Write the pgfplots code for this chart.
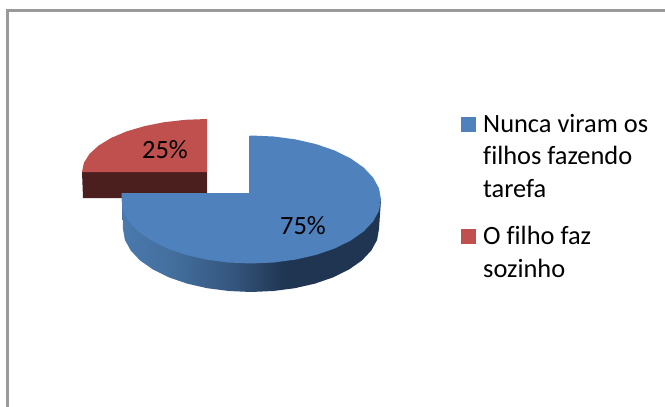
\documentclass[border=0pt]{standalone}
\usepackage{fontspec}
\setmainfont[Ligatures=NoCommon]{Carlito}
\usepackage{pgfplots}
\pgfplotsset{compat=1.18}
\definecolor{pieblue}{HTML}{4F81BD}
\definecolor{piered}{HTML}{C0504D}
\definecolor{reddark}{HTML}{4B1F1E}
\definecolor{bluedark}{HTML}{1F3551}
\definecolor{framegray}{HTML}{9A9A9A}
\definecolor{wallA}{HTML}{4A79AE}
\definecolor{wallB}{HTML}{44709F}
\definecolor{wallC}{HTML}{35577F}
\pgfdeclarehorizontalshading{sidewall}{100bp}{
  color(0bp)=(wallA);color(25bp)=(wallA);color(34bp)=(wallB);
  color(46bp)=(wallC);color(56.5bp)=(bluedark);color(100bp)=(bluedark)}
\newcommand{\lbl}{\fontsize{26.4}{32.5}\selectfont}
\begin{document}
\begin{tikzpicture}
\begin{axis}[
  width=665pt,height=407pt,scale only axis,
  xmin=0,xmax=665,ymin=0,ymax=407,y dir=reverse,
  hide axis]
% keep the whole canvas in the page
\path (axis cs:0,0) rectangle (axis cs:665,407);
% frame, only top and left show
\addplot[framegray,line width=2.4pt] coordinates {(665,10.5)(7.5,10.5)(7.5,407)};
% red slice
\addplot[draw=none,fill=reddark] coordinates {(82,172)(207,172)(207,198)(83,198)} --cycle;
\addplot[draw=none,fill=piered] coordinates {
  (82,172)(83.9,162.8)(89.5,153.9)(98.7,145.5)(111.2,137.9)(126.6,131.4)
  (144.5,126.1)(164.2,122.2)(185.3,119.8)(207,119)(207,172)} --cycle;
% blue slice, side then top
\addplot[draw=none,shading=sidewall] coordinates {
  (122,193)(123,229)(124.9,239.9)(130.7,250.5)(140.1,260.5)(153,269.5)(168.7,277.3)
  (187,283.6)(207.2,288.2)(228.8,291)(251,292)(273.2,291)(294.8,288.2)(315,283.6)
  (333.3,277.3)(349,269.5)(361.9,260.5)(371.3,250.5)(377.1,239.9)(379,229)(381,200)} --cycle;
\addplot[bluedark,opacity=0.55,line width=0.5pt] coordinates {(248.9,160)(248.9,193)};
\addplot[draw=none,fill=pieblue] coordinates {
  (249,193)(249,136)(251,135.5)(273.6,136.5)(295.5,139.4)(316,144.1)(334.6,150.5)
  (350.6,158.4)(363.6,167.5)(373.2,177.7)(379,188.4)(381,199.5)(379,210.6)(373.2,221.4)
  (363.6,231.5)(350.6,240.6)(334.6,248.5)(316,254.9)(295.5,259.6)(273.6,262.5)(251,263.5)
  (228.4,262.5)(206.5,259.6)(186,254.9)(167.4,248.5)(151.4,240.6)(138.4,231.5)(128.8,221.4)
  (123,210.6)(121.5,199.5)(121.7,193)} --cycle;
% legend keys
\addplot[draw=none,fill=pieblue] coordinates {(461,117)(476,117)(476,132)(461,132)} --cycle;
\addplot[draw=none,fill=piered] coordinates {(461,229)(476,229)(476,244)(461,244)} --cycle;
% percent labels
\node[anchor=base,font=\lbl] at (axis cs:165,158.5) {25\%};
\node[anchor=base,font=\lbl] at (axis cs:303,234.5) {75\%};
% legend text
\node[anchor=base west,font=\lbl,inner sep=0pt] at (axis cs:483,132) {Nunca viram os};
\node[anchor=base west,font=\lbl,inner sep=0pt] at (axis cs:483,164.5) {filhos fazendo};
\node[anchor=base west,font=\lbl,inner sep=0pt] at (axis cs:483,197) {tarefa};
\node[anchor=base west,font=\lbl,inner sep=0pt] at (axis cs:483,244) {O filho faz};
\node[anchor=base west,font=\lbl,inner sep=0pt] at (axis cs:483,277) {sozinho};
\end{axis}
\end{tikzpicture}
\end{document}
